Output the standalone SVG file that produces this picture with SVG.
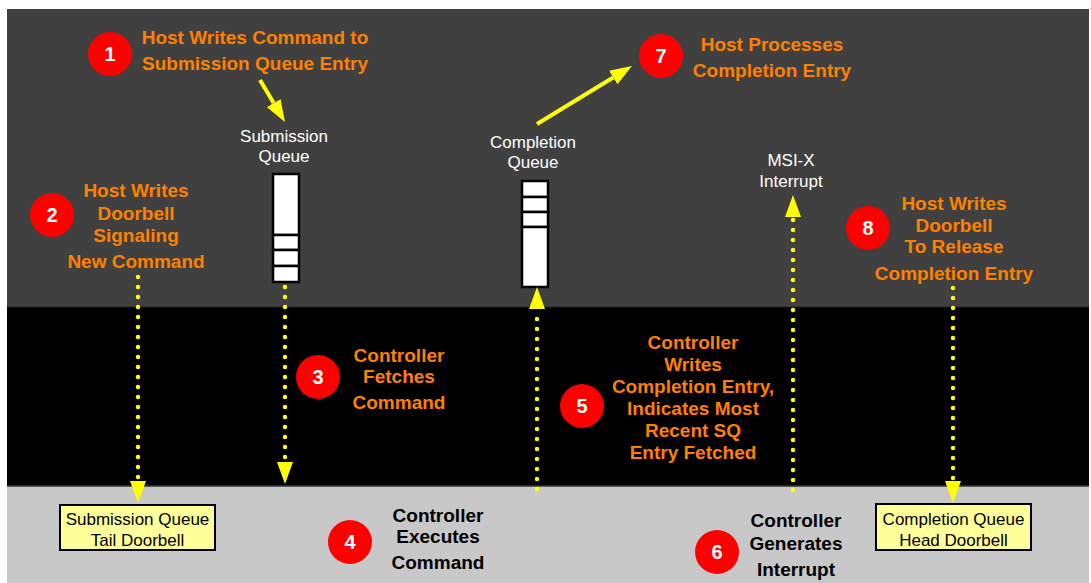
<svg xmlns="http://www.w3.org/2000/svg" width="1091" height="583" viewBox="0 0 1091 583">
  <style>
    .step { fill: #ff0000; }
    .num { font-family: "Liberation Sans", Arial, sans-serif; font-weight: bold; font-size: 20px; fill: #ffffff; text-anchor: middle; }
    .orange { font-family: "Liberation Sans", Arial, sans-serif; font-weight: bold; font-size: 19px; fill: #ff8000; text-anchor: middle; }
    .dark { font-family: "Liberation Sans", Arial, sans-serif; font-weight: bold; font-size: 19px; fill: #000000; text-anchor: middle; }
    .label { font-family: "Liberation Sans", Arial, sans-serif; font-size: 17px; fill: #ffffff; text-anchor: middle; }
    .boxtext { font-family: "Liberation Sans", Arial, sans-serif; font-size: 17px; fill: #000000; text-anchor: middle; }
    .cell { fill: #ffffff; stroke: #000000; stroke-width: 2.5; }
    .doorbell { fill: #ffff99; stroke: #000000; stroke-width: 2; }
    .solid { stroke: #ffff00; stroke-width: 4; fill: none; marker-end: url(#head); }
    .dotted { stroke: #ffff00; stroke-width: 4.5; fill: none; stroke-linecap: round; stroke-dasharray: 0 10; marker-end: url(#head); }
  </style>
  <defs>
    <marker id="head" markerUnits="userSpaceOnUse" markerWidth="22" markerHeight="16" refX="0" refY="8" orient="auto">
      <path d="M0,0 L22,8 L0,16 Z" fill="#ffff00"/>
    </marker>
  </defs>

  <!-- page background and the three horizontal bands -->
  <rect x="0" y="0" width="1091" height="583" fill="#ffffff"/>
  <rect x="7" y="9" width="1082" height="298" fill="#404040"/>
  <rect x="7" y="307" width="1082" height="179" fill="#000000"/>
  <rect x="7" y="486" width="1082" height="97" fill="#c8c8c8"/>
  <line x1="7" y1="307" x2="1089" y2="307" stroke="#222222" stroke-width="1"/>
  <line x1="7" y1="486" x2="1089" y2="486" stroke="#333333" stroke-width="1.5"/>

  <!-- submission queue -->
  <g id="submission-queue">
    <rect class="cell" x="273" y="174" width="26" height="61"/>
    <rect class="cell" x="273" y="235" width="26" height="15"/>
    <rect class="cell" x="273" y="250" width="26" height="16"/>
    <rect class="cell" x="273" y="266" width="26" height="16"/>
    <text class="label" x="284" y="142">Submission</text>
    <text class="label" x="284" y="162">Queue</text>
  </g>

  <!-- completion queue -->
  <g id="completion-queue">
    <rect class="cell" x="522" y="181" width="26" height="16"/>
    <rect class="cell" x="522" y="197" width="26" height="15"/>
    <rect class="cell" x="522" y="212" width="26" height="15"/>
    <rect class="cell" x="522" y="227" width="26" height="60"/>
    <text class="label" x="533" y="148">Completion</text>
    <text class="label" x="533" y="168">Queue</text>
  </g>

  <g id="msix-interrupt">
    <text class="label" x="791" y="166">MSI-X</text>
    <text class="label" x="791" y="187">Interrupt</text>
  </g>

  <!-- doorbell registers -->
  <g id="sq-tail-doorbell">
    <rect class="doorbell" x="60" y="505" width="155" height="45"/>
    <text class="boxtext" x="137.5" y="525">Submission Queue</text>
    <text class="boxtext" x="137.5" y="546">Tail Doorbell</text>
  </g>
  <g id="cq-head-doorbell">
    <rect class="doorbell" x="876" y="504" width="155" height="46"/>
    <text class="boxtext" x="953.5" y="525">Completion Queue</text>
    <text class="boxtext" x="953.5" y="546">Head Doorbell</text>
  </g>

  <!-- numbered steps -->
  <g id="step1">
    <circle class="step" cx="110" cy="54" r="22"/>
    <text class="num" x="110" y="61">1</text>
    <text class="orange" x="255" y="44">Host Writes Command to</text>
    <text class="orange" x="255" y="70">Submission Queue Entry</text>
  </g>
  <g id="step2">
    <circle class="step" cx="52" cy="215" r="22"/>
    <text class="num" x="52" y="222">2</text>
    <text class="orange" x="136" y="197">Host Writes</text>
    <text class="orange" x="136" y="220">Doorbell</text>
    <text class="orange" x="136" y="242">Signaling</text>
    <text class="orange" x="136" y="268">New Command</text>
  </g>
  <g id="step3">
    <circle class="step" cx="318" cy="377" r="22"/>
    <text class="num" x="318" y="384">3</text>
    <text class="orange" x="399" y="362">Controller</text>
    <text class="orange" x="399" y="383">Fetches</text>
    <text class="orange" x="399" y="409">Command</text>
  </g>
  <g id="step4">
    <circle class="step" cx="350" cy="542" r="22"/>
    <text class="num" x="350" y="549">4</text>
    <text class="dark" x="438" y="522">Controller</text>
    <text class="dark" x="438" y="543">Executes</text>
    <text class="dark" x="438" y="569">Command</text>
  </g>
  <g id="step5">
    <circle class="step" cx="582" cy="406" r="22"/>
    <text class="num" x="582" y="413">5</text>
    <text class="orange" x="693" y="349">Controller</text>
    <text class="orange" x="693" y="371">Writes</text>
    <text class="orange" x="693" y="393">Completion Entry,</text>
    <text class="orange" x="693" y="415">Indicates Most</text>
    <text class="orange" x="693" y="437">Recent SQ</text>
    <text class="orange" x="693" y="459">Entry Fetched</text>
  </g>
  <g id="step6">
    <circle class="step" cx="717" cy="552" r="22"/>
    <text class="num" x="717" y="559">6</text>
    <text class="dark" x="796" y="527">Controller</text>
    <text class="dark" x="796" y="550">Generates</text>
    <text class="dark" x="796" y="576">Interrupt</text>
  </g>
  <g id="step7">
    <circle class="step" cx="661" cy="56" r="22"/>
    <text class="num" x="661" y="63">7</text>
    <text class="orange" x="772" y="51">Host Processes</text>
    <text class="orange" x="772" y="77">Completion Entry</text>
  </g>
  <g id="step8">
    <circle class="step" cx="868" cy="228" r="22"/>
    <text class="num" x="868" y="235">8</text>
    <text class="orange" x="954" y="210">Host Writes</text>
    <text class="orange" x="954" y="232">Doorbell</text>
    <text class="orange" x="954" y="253">To Release</text>
    <text class="orange" x="954" y="280">Completion Entry</text>
  </g>

  <!-- connectors -->
  <g id="connectors">
    <line class="solid" x1="260" y1="80" x2="273.7" y2="103.1"/>
    <line class="solid" x1="537" y1="124" x2="613.2" y2="77.5"/>
    <line class="dotted" x1="138" y1="277" x2="138" y2="481"/>
    <line class="dotted" x1="285" y1="287" x2="285" y2="462"/>
    <line class="dotted" x1="537" y1="489" x2="537" y2="309"/>
    <line class="dotted" x1="793" y1="490" x2="793" y2="217"/>
    <line class="dotted" x1="953" y1="288" x2="953" y2="481"/>
  </g>
</svg>
